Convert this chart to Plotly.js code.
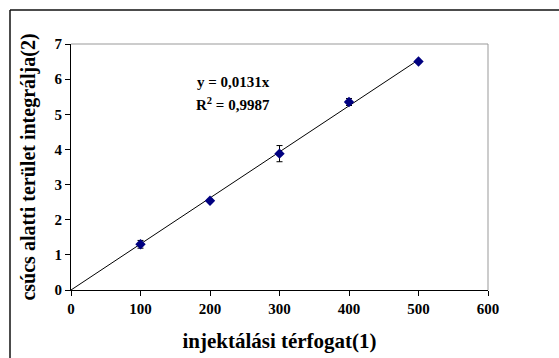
<!DOCTYPE html>
<html>
<head>
<meta charset="utf-8">
<script src="https://cdn.plot.ly/plotly-3.0.1.min.js"></script>
<style>
html,body{margin:0;padding:0;background:#fff;}
#chart{width:559px;height:358px;}
</style>
</head>
<body>
<div id="chart"></div>
<script>
const volumes = [100, 200, 300, 400, 500];
const areas = [1.30, 2.54, 3.88, 5.35, 6.50];
const errors = [0.11, 0.04, 0.23, 0.10, 0.03];
const trendX = [0, 500];
const trendY = [0, 6.55];
const xTicks = [0, 100, 200, 300, 400, 500, 600];
const yTicks = [0, 1, 2, 3, 4, 5, 6, 7];
const eqText = 'y = 0,0131x';
const r2Text = 'R<sup>2</sup> = 0,9987';

const font = 'Liberation Serif, Times New Roman, serif';

const data = [
  {
    x: trendX, y: trendY, type: 'scatter', mode: 'lines',
    line: {color: '#000', width: 1}, hoverinfo: 'skip', showlegend: false
  },
  {
    x: volumes, y: areas, type: 'scatter', mode: 'markers',
    marker: {symbol: 'diamond', size: 8, color: '#000080'},
    error_y: {type: 'data', array: errors, visible: true, color: '#000', thickness: 1, width: 3},
    showlegend: false
  }
];

const L = 71, R = 71, T = 44, B = 68;
const W = 559 - L - R, H = 358 - T - B;
const px = v => (v - L) / W;
const py = v => 1 - (v - T) / H;

const layout = {
  width: 559, height: 358,
  margin: {l: L, r: R, t: T, b: B, pad: 0},
  paper_bgcolor: '#fff', plot_bgcolor: '#fff',
  font: {family: font, color: '#000'},
  xaxis: {
    range: [0, 600], tickvals: xTicks, ticktext: xTicks.map(v => '<b>' + v + '</b>'),
    showgrid: false, zeroline: false, showline: true, linecolor: '#000', linewidth: 1,
    ticks: 'outside', ticklen: 5, tickcolor: '#000',
    tickfont: {family: font, size: 15, color: '#000', weight: 700},
    title: {text: '<b>injektálási térfogat(1)</b>', font: {family: font, size: 21, color: '#000'}, standoff: 17}
  },
  yaxis: {
    range: [0, 7], tickvals: yTicks, ticktext: yTicks.map(v => '<b>' + v + '</b>'),
    showgrid: false, zeroline: false, showline: true, linecolor: '#000', linewidth: 1,
    ticks: 'outside', ticklen: 5, tickcolor: '#000',
    tickfont: {family: font, size: 15, color: '#000', weight: 700},
    title: {text: '<b>csúcs alatti terület integrálja(2)</b>', font: {family: font, size: 20, color: '#000'}, standoff: 13}
  },
  annotations: [
    {xref: 'paper', yref: 'paper', x: px(233), y: py(82), text: '<b>' + eqText + '</b>', showarrow: false,
     font: {family: font, size: 15, color: '#000'}, xanchor: 'center', yanchor: 'middle'},
    {xref: 'paper', yref: 'paper', x: px(233), y: py(104), text: '<b>' + r2Text + '</b>', showarrow: false,
     font: {family: font, size: 15, color: '#000'}, xanchor: 'center', yanchor: 'middle'}
  ],
  shapes: [
    {type: 'line', xref: 'paper', yref: 'paper', x0: 0, x1: 1, y0: 1, y1: 1, line: {color: '#999', width: 1}, layer: 'below'},
    {type: 'line', xref: 'paper', yref: 'paper', x0: 1, x1: 1, y0: 0, y1: 1, line: {color: '#999', width: 1}, layer: 'below'},
    {type: 'line', xref: 'paper', yref: 'paper', x0: px(10), x1: px(570), y0: py(10), y1: py(10), line: {color: '#111', width: 1.5}},
    {type: 'line', xref: 'paper', yref: 'paper', x0: px(10), x1: px(10), y0: py(10), y1: py(370), line: {color: '#111', width: 1.5}}
  ]
};

Plotly.newPlot('chart', data, layout, {displayModeBar: false, staticPlot: true});
</script>
</body>
</html>
